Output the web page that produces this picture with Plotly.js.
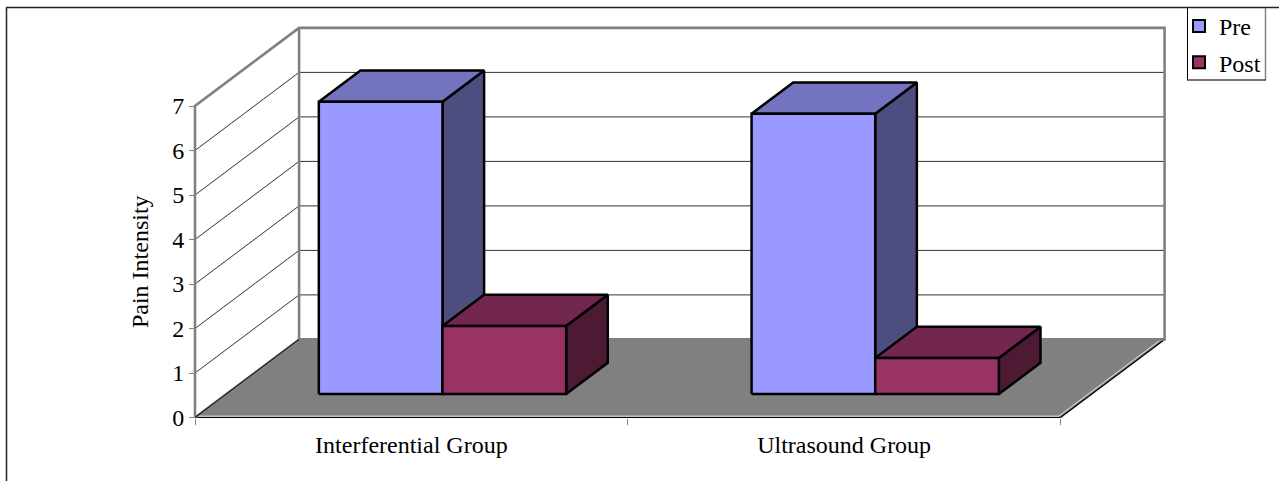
<!DOCTYPE html>
<html><head><meta charset="utf-8">
<script src="https://cdn.plot.ly/plotly-3.0.1.min.js"></script>
<style>html,body{margin:0;padding:0;background:#fff;overflow:hidden}</style>
</head><body><div id="chart" style="width:1279px;height:481px"></div>
<script>
const categories = ['Interferential Group', 'Ultrasound Group'];
const preValues = [6.57, 6.30];
const postValues = [1.53, 0.81];
const yTicks = [0, 1, 2, 3, 4, 5, 6, 7];
const seriesNames = ['Pre', 'Post'];

// oblique projection used by Excel-style 3-D columns, expressed in data units
const DEPTH_X = 0.2405, DEPTH_Y = 1.755;
const BAR_W = 0.2857, BAR_OFF = 0.214, Z_FRONT = 0.3, Z_BACK = 0.7;
const YMAX = 7, XMAX = categories.length;
const P = (x, v, z) => [x + z * DEPTH_X, v + z * DEPTH_Y];

const W = 1279, H = 481, PL = 195, PR = 1060.5, PT = 106, PB = 417.5;
const uX = (PR - PL) / XMAX, uY = (PB - PT) / YMAX;

function poly(pts, fill, line, width) {
  const xy = pts.map(p => p ? P(p[0], p[1], p[2]) : [null, null]);
  const t = {
    type: 'scatter', xaxis: 'x2', yaxis: 'y2', x: xy.map(a => a[0]), y: xy.map(a => a[1]), mode: 'lines',
    hoverinfo: 'skip', showlegend: false,
    line: {color: line || 'rgba(0,0,0,0)', width: width === undefined ? 2 : width, simplify: false}
  };
  if (fill) { t.fill = 'toself'; t.fillcolor = fill; }
  return t;
}
function box(x0, x1, v, c) {
  const zf = Z_FRONT, zb = Z_BACK;
  return [
    poly([[x1,0,zf],[x1,0,zb],[x1,v,zb],[x1,v,zf],[x1,0,zf]], c.side, '#000', 2.5),
    poly([[x0,v,zf],[x0,v,zb],[x1,v,zb],[x1,v,zf],[x0,v,zf]], c.top, '#000', 2.5),
    poly([[x0,0,zf],[x1,0,zf],[x1,v,zf],[x0,v,zf],[x0,0,zf]], c.front, '#000', 2.5)
  ];
}
const preCol = {front: '#9999FF', top: '#7373BF', side: '#4D4D80'};
const postCol = {front: '#993366', top: '#732650', side: '#4D1A33'};

const traces = [];
// legend entries live on the visible axes so that those axes get drawn
[preCol, postCol].forEach((c, i) => traces.push({
  type: 'scatter', x: [null], y: [null], mode: 'markers', name: seriesNames[i],
  legendgroup: seriesNames[i], hoverinfo: 'skip',
  marker: {symbol: 'square', size: 12, color: c.front, line: {color: '#000', width: 2}}
}));
// floor, with its light rim and dark outer edge
traces.push(poly([[0,0,0],[0,0,1],[XMAX,0,1],[XMAX,0,0],[0,0,0]], '#808080', '#808080', 1));
traces.push(poly([[XMAX,0,0],[XMAX,0,1]], null, '#000', 1.2));
traces.push(poly([[0,0,0],[XMAX,0,0]], null, '#000', 1.2));
traces.push(poly([[XMAX - 0.004,0.03,0],[XMAX - 0.004,0.03,1]], null, '#e6e6e6', 1));
traces.push(poly([[0.004,0.03,0],[XMAX - 0.004,0.03,0]], null, '#e6e6e6', 1));
// grid on side and back wall
const grid = [];
yTicks.slice(1, -1).forEach(v => grid.push([0,v,0],[0,v,1],[XMAX,v,1],null));
traces.push(poly(grid, null, '#333', 1));
traces.push(poly([[0,0,0],[0,0,1]], null, '#808080', 2.5));
traces.push(poly([[0,0,0],[0,YMAX,0],[0,YMAX,1],[XMAX,YMAX,1],[XMAX,0,1],[0,0,1],[0,YMAX,1]], null, '#808080', 2.6));
traces.push(poly([[0,0,0],[0,0,1]], null, '#000', 1));
// columns
categories.forEach((c, i) => {
  const a = i + BAR_OFF, b = a + BAR_W, d = b + BAR_W;
  traces.push(...box(a, b, preValues[i], preCol));
  traces.push(...box(b, d, postValues[i], postCol));
});

const px = x => x / W, py = y => (H - y) / H;
const seg = (x0, y0, x1, y1, color, width) => ({
  type: 'line', xref: 'paper', yref: 'paper', x0: px(x0), y0: py(y0), x1: px(x1), y1: py(y1),
  line: {color, width}
});
const font = {family: '"Liberation Serif", "Times New Roman", serif', size: 24, color: '#000'};
const layout = {
  width: W, height: H, autosize: false,
  margin: {l: 0, r: 0, t: 0, b: 0, pad: 0},
  paper_bgcolor: '#fff', plot_bgcolor: 'rgba(0,0,0,0)', font,
  xaxis: {
    domain: [PL / W, PR / W], anchor: 'y',
    type: 'linear', range: [0, XMAX], fixedrange: true, showgrid: false, zeroline: false,
    showline: false,
    tickmode: 'array', tickvals: categories.map((c, i) => i + 0.5), ticktext: categories,
    ticks: '', ticklen: 0, ticklabelstandoff: 10, tickfont: font,
    minor: {tickmode: 'array', tickvals: [0, 1, 2], ticks: 'outside', ticklen: 6, tickcolor: '#808080', tickwidth: 1, showgrid: false}
  },
  yaxis: {
    domain: [(H - PB) / H, (H - PT) / H], anchor: 'x',
    type: 'linear', range: [0, YMAX], fixedrange: true, showgrid: false, zeroline: false,
    showline: false,
    tickmode: 'array', tickvals: yTicks, ticks: 'outside', ticklen: 5, tickcolor: '#808080', tickwidth: 1,
    tickfont: font,
    title: {text: 'Pain Intensity', font, standoff: 16}
  },
  xaxis2: {domain: [0, 1], anchor: 'y2', range: [-PL / uX, (W - PL) / uX], visible: false, fixedrange: true},
  yaxis2: {domain: [0, 1], anchor: 'x2', range: [-(H - PB) / uY, PB / uY], visible: false, fixedrange: true},
  legend: {
    x: px(1179), y: py(4), xanchor: 'left', yanchor: 'top', bgcolor: 'rgba(0,0,0,0)', borderwidth: 0,
    traceorder: 'grouped', tracegroupgap: 2, font, itemclick: false, itemdoubleclick: false
  },
  showlegend: true,
  shapes: [
    seg(6.5, 7.5, 6.5, 481, '#222', 1.5),
    seg(6, 7.5, 1279, 7.5, '#222', 1.5),
    seg(1187.5, 8, 1187.5, 80, '#000', 1),
    seg(1265.5, 8, 1265.5, 80, '#808080', 1.5),
    seg(1187, 80, 1266, 80, '#444', 1.5)
  ]
};
Plotly.newPlot('chart', traces, layout, {staticPlot: true, displayModeBar: false});
</script></body></html>
